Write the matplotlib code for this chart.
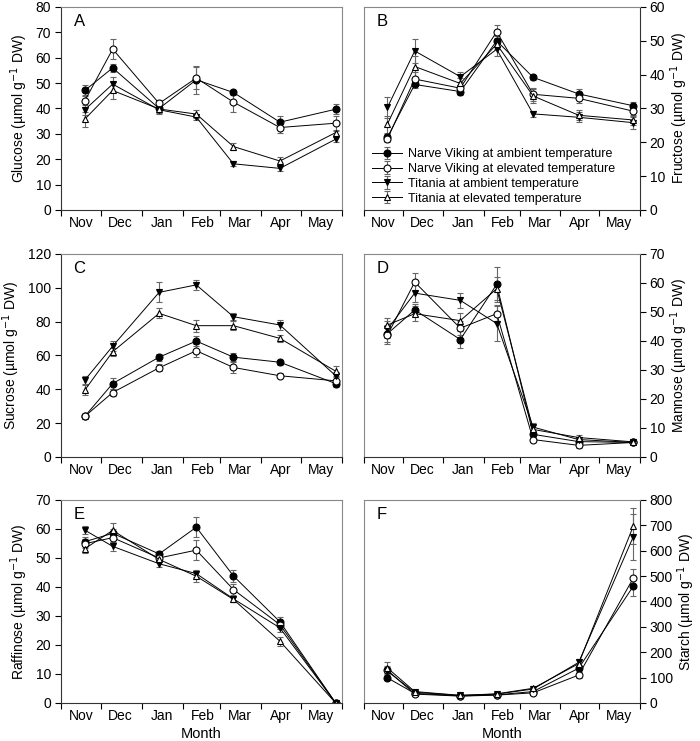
import pandas as pd
import matplotlib
matplotlib.use("Agg")
import matplotlib.pyplot as plt
import matplotlib.dates as mdates

plt.rcParams['font.family'] = ['Liberation Sans', 'DejaVu Sans']

# sampling dates (one per month)
sample_dates = pd.to_datetime(['2009-11-19', '2009-12-10', '2010-01-14', '2010-02-11',
                               '2010-03-11', '2010-04-15', '2010-05-27'])

series_names = ['Narve Viking at ambient temperature',
                'Narve Viking at elevated temperature',
                'Titania at ambient temperature',
                'Titania at elevated temperature']

# order of every panel: NV ambient, NV elevated, Titania ambient, Titania elevated
glucose = [[47.1, 56.0, 40.0, 51.3, 46.3, 34.6, 39.7],
           [43.0, 63.4, 42.0, 52.0, 42.5, 32.5, 34.2],
           [39.5, 49.6, 39.5, 36.6, 18.2, 16.4, 27.9],
           [35.8, 47.1, 39.8, 37.8, 25.0, 19.3, 30.5]]
glucose_err = [[2.0, 1.5, 1.5, 5.5, 1.0, 2.5, 2.0],
               [2.5, 4.0, 1.5, 4.5, 4.0, 2.0, 3.0],
               [2.0, 3.0, 1.5, 1.0, 1.0, 1.0, 1.0],
               [3.0, 3.5, 1.5, 1.5, 1.5, 1.5, 1.0]]

fructose = [[21.5, 37.1, 35.0, 50.0, 39.2, 34.3, 30.8],
            [21.0, 38.7, 36.0, 52.7, 34.2, 33.0, 29.2],
            [30.3, 47.0, 39.4, 47.5, 28.4, 27.4, 25.8],
            [25.4, 42.4, 37.4, 49.0, 33.7, 28.0, 26.6]]
fructose_err = [[1.0, 1.0, 1.0, 1.5, 0.8, 1.5, 1.2],
                [1.0, 2.0, 1.0, 2.0, 2.0, 1.5, 1.5],
                [3.0, 3.5, 1.5, 2.0, 0.8, 1.5, 1.8],
                [2.5, 3.0, 1.5, 1.5, 2.0, 1.5, 1.5]]

sucrose = [[24.0, 43.4, 59.0, 68.5, 59.0, 56.0, 43.4],
           [24.0, 38.1, 52.7, 62.8, 52.9, 48.0, 45.0],
           [45.4, 65.5, 97.3, 101.7, 82.9, 78.0, 48.0],
           [39.5, 62.2, 84.9, 77.6, 77.6, 70.1, 50.7]]
sucrose_err = [[1.5, 3.5, 2.0, 3.0, 2.5, 1.5, 2.0],
               [1.5, 2.0, 2.0, 4.0, 3.5, 1.5, 2.5],
               [2.5, 3.0, 6.0, 3.0, 2.0, 3.0, 2.5],
               [3.0, 2.5, 3.0, 3.5, 2.5, 2.0, 3.0]]

mannose = [[42.5, 50.7, 40.5, 59.5, 7.8, 5.3, 5.0],
           [42.0, 60.3, 44.4, 49.4, 6.0, 4.0, 5.0],
           [44.0, 56.5, 54.0, 46.0, 10.3, 6.0, 5.0],
           [45.5, 49.4, 47.0, 58.0, 9.5, 6.7, 5.2]]
mannose_err = [[3.0, 2.0, 3.0, 6.0, 1.0, 0.8, 0.5],
               [3.0, 3.0, 2.5, 3.0, 1.0, 0.8, 0.5],
               [3.0, 3.0, 2.5, 6.0, 1.5, 1.0, 0.5],
               [2.5, 2.5, 2.5, 4.0, 1.5, 1.0, 0.5]]

raffinose = [[55.6, 58.5, 51.4, 60.6, 43.8, 28.0, 0.0],
             [54.9, 57.0, 50.0, 52.7, 39.1, 27.0, 0.0],
             [59.6, 54.0, 48.0, 44.6, 35.9, 25.9, 0.0],
             [53.2, 59.5, 49.5, 43.7, 35.7, 21.3, 0.0]]
raffinose_err = [[1.5, 1.5, 1.0, 3.5, 2.0, 1.5, 0.2],
                 [1.5, 1.5, 1.0, 3.5, 2.0, 1.5, 0.2],
                 [1.5, 1.5, 1.0, 1.0, 1.0, 1.5, 0.2],
                 [1.5, 2.5, 1.0, 2.0, 1.0, 1.5, 0.2]]

starch = [[99, 38, 28, 32, 45, 137, 460],
          [129, 35, 27, 31, 40, 110, 492],
          [125, 42, 30, 35, 55, 160, 655],
          [138, 45, 30, 36, 58, 155, 697]]
starch_err = [[10, 5, 3, 4, 5, 12, 40],
              [12, 5, 3, 4, 5, 12, 35],
              [20, 5, 3, 4, 6, 15, 90],
              [25, 6, 3, 4, 6, 15, 70]]

panels = [('A', 'Glucose', glucose, glucose_err, 80, 10),
          ('B', 'Fructose', fructose, fructose_err, 60, 10),
          ('C', 'Sucrose', sucrose, sucrose_err, 120, 20),
          ('D', 'Mannose', mannose, mannose_err, 70, 10),
          ('E', 'Raffinose', raffinose, raffinose_err, 70, 10),
          ('F', 'Starch', starch, starch_err, 800, 100)]

styles = [dict(marker='o', mfc='black'),
          dict(marker='o', mfc='white'),
          dict(marker='v', mfc='black'),
          dict(marker='^', mfc='white')]

fig = plt.figure(figsize=(7.0, 7.41), dpi=100)
lefts = [0.087, 0.520]
widths = [0.402, 0.394]
bottoms = [0.7166, 0.3833, 0.0513]

for i, (letter, name, values, errors, ymax, ystep) in enumerate(panels):
    col = i % 2
    row = i // 2
    ax = fig.add_axes([lefts[col], bottoms[row], widths[col], 0.274])
    for k in range(4):
        ax.errorbar(sample_dates, values[k], yerr=errors[k], color='black',
                    lw=0.7, ms=5, mec='black', mew=0.8, ecolor='#666666',
                    elinewidth=0.8, capsize=2.5, capthick=0.8,
                    label=series_names[k], **styles[k])

    ax.set_xlim(pd.Timestamp('2009-11-01'), pd.Timestamp('2010-06-01'))
    ax.set_ylim(0, ymax)
    ax.set_yticks(range(0, ymax + 1, ystep))
    ax.xaxis.set_major_locator(mdates.MonthLocator())
    ax.xaxis.set_major_formatter(plt.NullFormatter())
    ax.xaxis.set_minor_locator(mdates.MonthLocator(bymonthday=16))
    ax.xaxis.set_minor_formatter(mdates.DateFormatter('%b'))
    ax.tick_params(axis='x', which='minor', length=0, labelsize=10, pad=4)
    ax.tick_params(axis='x', which='major', length=4, width=0.8, direction='out')
    ax.tick_params(axis='y', length=4, width=0.8, direction='out', labelsize=10, pad=3)

    for side in ['top', 'right', 'left', 'bottom']:
        ax.spines[side].set_linewidth(0.8)
        ax.spines[side].set_color('#888888')
    ax.spines['bottom'].set_color('#333333')

    label = name + ' (µmol g$^{-1}$ DW)'
    if col == 0:
        ax.spines['left'].set_color('#333333')
        ax.set_ylabel(label, fontsize=10, labelpad=4)
    else:
        ax.spines['right'].set_color('#333333')
        ax.yaxis.tick_right()
        ax.yaxis.set_label_position('right')
        ax.set_ylabel(label, fontsize=10, labelpad=2)

    if row == 2:
        ax.set_xlabel('Month', fontsize=10.5, labelpad=3)

    ax.text(0.045, 0.93, letter, transform=ax.transAxes, fontsize=12,
            va='center', ha='left')

    if letter == 'B':
        ax.legend(loc='lower left', bbox_to_anchor=(0.0, -0.01), frameon=False,
                  fontsize=9, handlelength=2.4, handletextpad=0.5,
                  labelspacing=0.22, borderaxespad=0.2)

fig.savefig('out.png', dpi=100)
